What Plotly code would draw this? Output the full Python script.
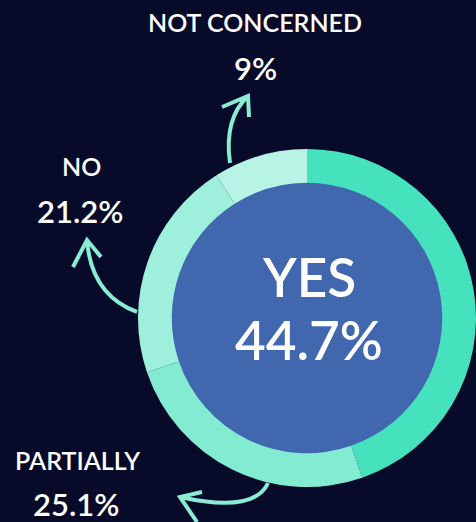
import plotly.graph_objects as go

# ---- data ----
categories = ["YES", "PARTIALLY", "NO", "NOT CONCERNED"]
values = [44.7, 25.1, 21.2, 9]
value_labels = ["44.7%", "25.1%", "21.2%", "9%"]
colors = ["#46e1bd", "#83ebd2", "#9ef0dc", "#b8f4e6"]

W, H = 476, 522
BG = "#070b29"
BLUE = "#4167af"
ARROW = "#8aecd4"
FONT = "Lato"
WEIGHT = 600

# pie geometry (pixels)
cx, cy, R = 307, 318, 169
hole = 0.8


def px_dom(cx, cy, r):
    return dict(x=[(cx - r) / W, min(1, (cx + r) / W)],
                y=[1 - (cy + r) / H, 1 - (cy - r) / H])


def px(x, y):
    return x / W, 1 - y / H


def path_px(cmds):
    out = []
    for c in cmds:
        if isinstance(c, str):
            out.append(c)
        else:
            xx, yy = px(*c)
            out.append(f"{xx:.5f},{yy:.5f}")
    return " ".join(out)


fig = go.Figure()

# blue centre disk
fig.add_trace(go.Pie(values=[1], labels=[""], marker=dict(colors=[BLUE], line=dict(width=0)),
                     domain=px_dom(cx, cy, R * hole + 2), textinfo="none", hoverinfo="skip",
                     sort=False, showlegend=False))
# ring
fig.add_trace(go.Pie(values=values, labels=categories, marker=dict(colors=colors, line=dict(width=0)),
                     hole=hole, domain=px_dom(cx, cy, R), direction="clockwise", rotation=0,
                     sort=False, textinfo="none", hoverinfo="label+percent", showlegend=False))

# curved arrows (decorative)
arrow_paths = [
    ["M", (230, 163), "C", (226, 135), (231, 112), (248, 96),
     "M", (222, 107), "L", (248, 96), "L", (249, 117)],
    ["M", (137, 312), "C", (110, 302), (90, 280), (87, 240),
     "M", (73, 267), "L", (87, 240), "L", (101, 257)],
    ["M", (268, 483), "C", (258, 505), (225, 507), (180, 497),
     "M", (202, 492), "L", (180, 497), "L", (197, 522)],
]
for p in arrow_paths:
    fig.add_shape(type="path", xref="paper", yref="paper", path=path_px(p),
                  line=dict(color=ARROW, width=4), layer="above")

# labels
label_pos = {
    "NOT CONCERNED": ((255, 22), (255, 68)),
    "NO": ((81, 166), (80, 211)),
    "PARTIALLY": ((77, 460), (76, 504)),
}
for cat, val in zip(categories, value_labels):
    if cat == "YES":
        x, y = px(309, 276)
        fig.add_annotation(x=x, y=y, xref="paper", yref="paper", text=cat, showarrow=False,
                           font=dict(family=FONT, size=53, color="white", weight=WEIGHT),
                           xanchor="center", yanchor="middle")
        x, y = px(309, 339)
        fig.add_annotation(x=x, y=y, xref="paper", yref="paper", text=val, showarrow=False,
                           font=dict(family=FONT, size=53, color="white", weight=WEIGHT),
                           xanchor="center", yanchor="middle")
        continue
    (lx, ly), (vx, vy) = label_pos[cat]
    x, y = px(lx, ly)
    fig.add_annotation(x=x, y=y, xref="paper", yref="paper", text=cat, showarrow=False,
                       font=dict(family=FONT, size=25, color="white", weight=WEIGHT),
                       xanchor="center", yanchor="middle")
    x, y = px(vx, vy)
    fig.add_annotation(x=x, y=y, xref="paper", yref="paper", text=val, showarrow=False,
                       font=dict(family=FONT, size=31, color="white", weight=WEIGHT),
                       xanchor="center", yanchor="middle")

fig.update_layout(width=W, height=H, margin=dict(l=0, r=0, t=0, b=0),
                  paper_bgcolor=BG, plot_bgcolor=BG, showlegend=False)

fig.write_html("out.html")
